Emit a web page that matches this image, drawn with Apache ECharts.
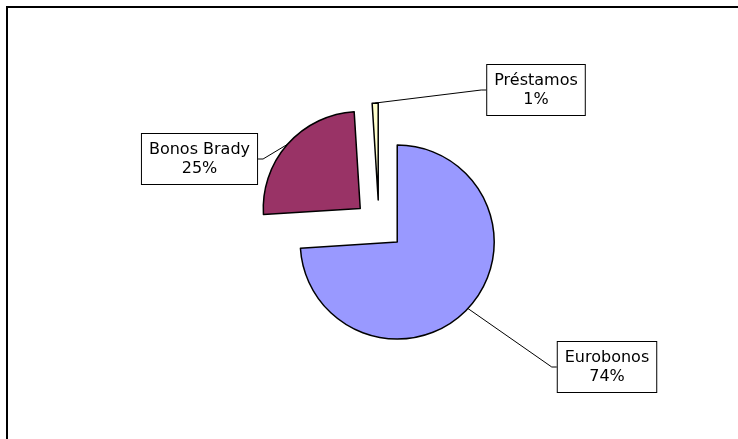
<!DOCTYPE html>
<html>
<head>
<meta charset="utf-8">
<script src="https://cdn.jsdelivr.net/npm/echarts@6/dist/echarts.min.js"></script>
<style>
  html, body { margin: 0; padding: 0; background: #fff; }
  #chart { width: 738px; height: 439px; }
</style>
</head>
<body>
<div id="chart"></div>
<script>
// ---- data ----
const categories = ['Eurobonos', 'Bonos Brady', 'Préstamos'];
const values = [74, 25, 1];

// ---- styling / layout (not data) ----
const colors = ['#9999FF', '#993366', '#FFFFCC'];
const pieCenter = [379, 225];
const pieRadius = 97;
const explode = 25;
const labelCenters = [[607, 367], [199.5, 159], [536, 90]];
const labelSide = ['left', 'right', 'left'];

const chart = echarts.init(document.getElementById('chart'), null, { renderer: 'canvas' });

const total = values.reduce((a, b) => a + b, 0);

function makeLabelLayout(params) {
  const i = params.dataIndex;
  const lx = labelCenters[i][0], ly = labelCenters[i][1];
  const w = params.labelRect.width;
  const start = params.labelLinePoints ? params.labelLinePoints[0] : [lx, ly];
  const edgeX = labelSide[i] === 'left' ? lx - w / 2 : lx + w / 2;
  const stubX = labelSide[i] === 'left' ? edgeX - 5 : edgeX + 5;
  return {
    x: lx, y: ly, align: 'center', verticalAlign: 'middle',
    labelLinePoints: [start, [stubX, ly], [edgeX, ly]]
  };
}

// One series per exploded slice: same data, only slice k is visible,
// and its centre is pushed out along the slice's own mid angle.
let cum = 0;
const series = categories.map((name, k) => {
  const mid = (cum + values[k] / 2) / total * 2 * Math.PI;
  cum += values[k];
  const ang = Math.PI / 2 - mid; // clockwise from 12 o'clock
  const cx = pieCenter[0] + Math.cos(ang) * explode;
  const cy = pieCenter[1] - Math.sin(ang) * explode;
  return {
    type: 'pie',
    center: [cx, cy],
    radius: pieRadius,
    startAngle: 90,
    clockwise: true,
    percentPrecision: 0,
    emphasis: { disabled: true, scale: false },
    avoidLabelOverlap: false,
    label: {
      show: true,
      position: 'outside',
      formatter: '{b}\n{d}%',
      fontFamily: 'DejaVu Sans',
      fontSize: 16,
      lineHeight: 19,
      color: '#000',
      align: 'center',
      backgroundColor: '#fff',
      borderColor: '#000',
      borderWidth: 1,
      padding: [6, 7, 6, 7]
    },
    labelLine: {
      show: true,
      length: 10,
      length2: 5,
      lineStyle: { color: '#000', width: 1 }
    },
    labelLayout: makeLabelLayout,
    data: categories.map((n, i) => (i === k ? {
      name: n,
      value: values[i],
      itemStyle: { color: colors[i], borderColor: '#000', borderWidth: 1.5 }
    } : {
      name: n,
      value: values[i],
      itemStyle: { color: 'rgba(0,0,0,0)', borderWidth: 0 },
      label: { show: false },
      labelLine: { show: false }
    }))
  };
});

chart.setOption({
  animation: false,
  backgroundColor: '#ffffff',
  graphic: [{
    type: 'rect',
    shape: { x: 7, y: 7, width: 800, height: 500 },
    style: { fill: 'none', stroke: '#000', lineWidth: 2 },
    silent: true
  }],
  series: series
});
</script>
</body>
</html>
